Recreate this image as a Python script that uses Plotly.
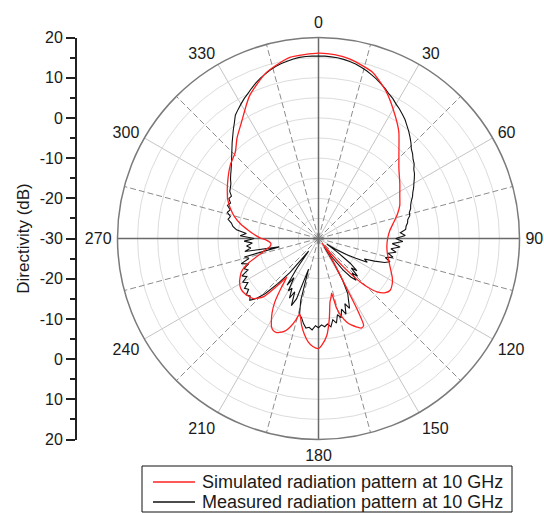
import plotly.graph_objects as go

# ---- Simulated radiation pattern (angle in degrees, directivity in dB) ----
sim_theta = [0, 5, 10, 18, 25, 32, 37, 42, 49, 56, 62, 68, 73, 78, 84, 90, 96, 102,
             110, 118, 122, 125.8, 129, 132.4, 134.5, 136.2, 138.7, 140.5, 142, 144,
             147.5, 149.5, 150.5, 151.5, 152.6, 154.5, 156.6, 159, 161.3, 163.5, 165.4,
             166.5, 168, 169.7, 172.3, 175.1, 178.3, 180, 183, 185.6, 188.5, 191, 194,
             195.5, 197.2, 199.3, 201.5, 204, 206.3, 208, 209.4, 212, 214.5, 217, 219.5,
             220.5, 222, 223.5, 227.5, 233.3, 237, 241.2, 246.6, 251, 255, 258, 260.4,
             264.2, 268.3, 270, 273.5, 276.9, 280.5, 284.6, 289, 293, 301, 310, 316,
             321, 326.3, 334.2, 342.6, 351, 360]
sim_db = [16.1, 15.9, 15.3, 13.5, 10.1, 6.0, 3.2, -0.1, -3.5, -5.6, -7.1, -8.2, -9.5,
          -10.9, -12.2, -12.8, -12.9, -12.5, -11.2, -9.2, -8.4, -8.0, -8.6, -10.3, -12.5,
          -15.0, -20.6, -25.5, -28.5, -27.0, -23.1, -19.0, -15.7, -9.2, -5.6, -5.3, -6.0,
          -6.9, -8.0, -9.8, -12.0, -16.0, -15.0, -14.0, -9.9, -5.8, -3.4, -2.6, -3.1,
          -4.1, -6.0, -8.0, -10.7, -9.0, -7.35, -5.8, -4.95, -4.4, -4.5, -5.1, -6.1,
          -8.2, -10.8, -14.5, -17.6, -15.5, -12.5, -10.0, -7.9, -7.1, -7.0, -7.6, -9.1,
          -11.8, -15.0, -16.5, -17.7, -18.1, -17.0, -15.8, -14.0, -12.3, -10.3, -8.4,
          -6.8, -5.5, -3.6, -1.4, -0.2, 2.2, 4.6, 9.4, 13.3, 15.6, 16.1]

# ---- Measured radiation pattern, sampled every 2 degrees ----
meas_theta = list(range(0, 362, 2))
meas_db = [
    15.4, 15.4, 15.3, 15.2, 15.0, 14.7, 14.4, 13.9, 13.4, 12.8,      # 0-18
    12.2, 11.5, 10.8, 10.0, 9.4, 8.6, 8.0, 7.3, 6.6, 5.7,            # 20-38
    4.9, 4.0, 3.1, 2.1, 1.5, 0.7, 0.2, -0.7, -1.2, -1.9,             # 40-58
    -2.6, -3.2, -3.9, -4.4, -5.1, -5.6, -5.9, -6.5, -6.6, -7.3,      # 60-78
    -7.5, -8.0, -8.2, -9.6, -8.4, -10.8, -9.0, -11.6, -9.6, -11.8,   # 80-98
    -10.4, -12.3, -10.9, -12.7, -11.3, -12.5, -15.0, -17.5, -16.5, -19.5,  # 100-118
    -22.0, -25.0, -27.5, -24.0, -20.0, -17.5, -19.0, -16.5, -18.0, -16.0,  # 120-138
    -17.5, -20.0, -24.0, -27.5, -23.0, -18.0, -14.5, -13.0, -11.0, -12.5,  # 140-158
    -10.0, -11.5, -9.5, -10.5, -8.5, -9.5, -7.8, -8.6, -8.0, -8.5,   # 160-178
    -7.8, -8.3, -7.2, -7.8, -7.5, -8.5, -9.8, -10.5, -14.0, -22.0,   # 180-198
    -14.0, -12.0, -15.5, -13.5, -16.0, -15.0, -18.5, -16.0, -21.0, -26.0,  # 200-218
    -19.0, -15.0, -11.0, -8.5, -7.0, -7.8, -7.2, -8.5, -7.8, -9.3,   # 220-238
    -8.2, -9.8, -8.8, -10.8, -10.0, -11.5, -9.8, -12.0, -11.0, -20.0,  # 240-258
    -11.4, -13.0, -12.0, -13.5, -11.5, -14.0, -10.5, -12.0, -9.5, -8.5,  # 260-278
    -8.0, -7.0, -7.4, -6.4, -6.9, -5.9, -6.4, -5.6, -5.9, -5.0,      # 280-298
    -4.7, -4.3, -3.6, -3.0, -2.4, -1.7, -0.9, 0.0, 1.0, 2.1,         # 300-318
    3.2, 4.4, 5.6, 7.0, 7.8, 8.6, 9.4, 10.1, 10.9, 11.7,             # 320-338
    12.4, 13.0, 13.6, 14.1, 14.5, 14.8, 15.1, 15.3, 15.4, 15.4,      # 340-358
    15.4,                                                            # 360
]

# ---- Axis definitions ----
r_min, r_max = -30, 20
r_grid = [-25, -20, -15, -10, -5, 0, 5, 10, 15]
angle_ticks = list(range(0, 360, 30))
angle_labels = [str(a) for a in angle_ticks]
dashed_spokes = list(range(15, 360, 30))
cross_spokes = [0, 90, 180, 270]
left_ticks = [-30, -20, -10, 0, 10, 20]

series_names = ["Simulated radiation pattern at 10 GHz",
                "Measured radiation pattern at 10 GHz"]
series_colors = ["#ff2020", "#111111"]

FONT = "Liberation Sans, Arial, sans-serif"
TXT = "#1a1a1a"
W, H = 544, 513
cx, cy, rad = 318.5, 238.5, 201.0


def spoke_trace(angles, r_end, color, width, dash):
    r, th = [], []
    for a in angles:
        r += [r_min, r_end, None]
        th += [a, a, None]
    return go.Scatterpolar(r=r, theta=th, mode="lines", showlegend=False,
                           hoverinfo="skip", cliponaxis=False,
                           line=dict(color=color, width=width, dash=dash))


fig = go.Figure()
fig.add_trace(spoke_trace(dashed_spokes, r_max, "#8c8c8c", 1, "6px,3px"))
fig.add_trace(spoke_trace(cross_spokes, r_max + 0.6, "#6a6a6a", 1.5, "solid"))

fig.add_trace(go.Scatterpolar(
    r=meas_db, theta=meas_theta, mode="lines", name=series_names[1],
    showlegend=False, line=dict(color=series_colors[1], width=1.1)))
fig.add_trace(go.Scatterpolar(
    r=sim_db, theta=sim_theta, mode="lines", name=series_names[0],
    showlegend=False,
    line=dict(color=series_colors[0], width=1.3, shape="spline", smoothing=0.6)))

# Left dB scale: mirrored about the centre (-30 dB) so it reads 20 ... -30 ... 20
span = r_max - r_min
y_vals = [t - r_min for t in left_ticks]
y_vals = sorted([-v for v in y_vals if v != 0] + y_vals)
y_text = [str(int(r_min + abs(v))) for v in y_vals]
y_minor = [v + 5 for v in y_vals[:-1]]

fig.add_trace(go.Scatter(x=[0.5], y=[0], mode="markers", marker=dict(opacity=0),
                         showlegend=False, hoverinfo="skip",
                         xaxis="x", yaxis="y"))

# Framed legend box below the plot
box_x0, box_x1, box_y0, box_y1 = 142, 512, 466, 512
row_y = [482, 502]
shapes = [dict(type="rect", xref="paper", yref="paper",
               x0=box_x0 / W, x1=box_x1 / W, y0=1 - box_y1 / H, y1=1 - box_y0 / H,
               line=dict(color="#111", width=1), fillcolor="white", layer="above")]
annotations = []
for name, col, ry in zip(series_names, series_colors, row_y):
    shapes.append(dict(type="line", xref="paper", yref="paper",
                       x0=153 / W, x1=195 / W, y0=1 - ry / H, y1=1 - ry / H,
                       line=dict(color=col, width=1.5), layer="above"))
    annotations.append(dict(text=name, xref="paper", yref="paper",
                            x=200 / W, y=1 - ry / H, xanchor="left", yanchor="middle",
                            showarrow=False,
                            font=dict(size=18, color=TXT, family=FONT)))

fig.update_layout(
    width=W, height=H,
    margin=dict(l=0, r=0, t=0, b=0, autoexpand=False),
    paper_bgcolor="white", plot_bgcolor="rgba(0,0,0,0)",
    font=dict(family=FONT, size=16, color=TXT),
    showlegend=False,
    shapes=shapes, annotations=annotations,
    polar=dict(
        domain=dict(x=[(cx - rad) / W, (cx + rad) / W],
                    y=[1 - (cy + rad) / H, 1 - (cy - rad) / H]),
        bgcolor="rgba(0,0,0,0)",
        radialaxis=dict(range=[r_min, r_max], tickvals=r_grid,
                        showticklabels=False, ticks="", showline=False,
                        gridcolor="#dcdcdc", gridwidth=1, angle=90),
        angularaxis=dict(rotation=90, direction="clockwise",
                         tickvals=angle_ticks, ticktext=angle_labels,
                         ticks="outside", ticklen=2, tickcolor="rgba(0,0,0,0)",
                         showline=True, linecolor="#7a7a7a", linewidth=1.5,
                         gridcolor="#c4c4c4", gridwidth=1,
                         tickfont=dict(size=16, color=TXT, family=FONT)),
    ),
    xaxis=dict(domain=[77 / W, 100 / W], range=[0, 1], visible=False),
    yaxis=dict(domain=[1 - (cy + rad) / H, 1 - (cy - rad) / H],
               range=[-span, span], tickvals=y_vals, ticktext=y_text,
               ticks="outside", ticklen=9, tickwidth=1.5, tickcolor="#222",
               showline=True, linecolor="#222", linewidth=2,
               showgrid=False, zeroline=False,
               minor=dict(tickvals=y_minor, ticks="outside", ticklen=5,
                          tickwidth=1.5, tickcolor="#222", showgrid=False),
               tickfont=dict(size=16, color=TXT, family=FONT),
               title=dict(text="Directivity (dB)", standoff=6,
                          font=dict(size=17, color=TXT, family=FONT))),
)

fig.write_html("out.html")
